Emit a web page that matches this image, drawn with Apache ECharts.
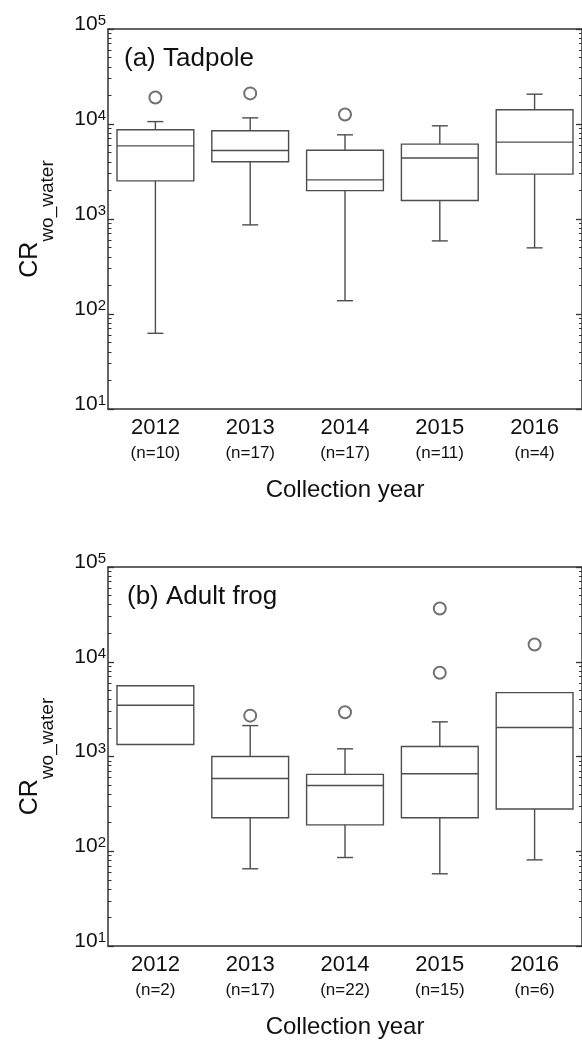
<!DOCTYPE html>
<html>
<head>
<meta charset="utf-8">
<script src="https://cdn.jsdelivr.net/npm/echarts@6/dist/echarts.min.js"></script>
<style>
html,body{margin:0;padding:0;background:#fff;}
#chart{width:582px;height:1040px;}
</style>
</head>
<body>
<div id="chart"></div>
<script>
// ---- data ----
const years = ['2012', '2013', '2014', '2015', '2016'];
const tadpoleN = [10, 17, 17, 11, 4];
const frogN = [2, 17, 22, 15, 6];
// [min, Q1, median, Q3, max]
const tadpoleBox = [
  [62.6, 2520, 5890, 8690, 10600],
  [867, 4000, 5260, 8480, 11600],
  [138, 1990, 2580, 5300, 7690],
  [588, 1563, 4380, 6140, 9570],
  [497, 2970, 6440, 14100, 20600]
];
const tadpoleOutliers = [['2012', 19000], ['2013', 21000], ['2014', 12600]];
const frogBox = [
  [1337, 1337, 3480, 5590, 5590],
  [65.3, 226, 586, 1000, 2120],
  [85.9, 190, 495, 647, 1205],
  [57.8, 226, 657, 1274, 2320],
  [81.1, 279, 2020, 4720, 4720]
];
const frogOutliers = [['2013', 2700], ['2014', 2930], ['2015', 36500], ['2015', 7660], ['2016', 15200]];
const majorTickValues = [10, 100, 1000, 10000, 100000];
const minorTickValues = [];
[10, 100, 1000, 10000].forEach(function (d) {
  [2, 3, 4, 5, 6, 7, 8, 9].forEach(function (m) { minorTickValues.push(m * d); });
});
const panelTitles = ['(a) Tadpole', '(b) Adult frog'];

// ---- style ----
const FONT = 'Liberation Sans, Arial, sans-serif';
const AX = '#333';
const LN = '#4d4d4d';

const grids = [
  { left: 108, right: -2, top: 29, height: 380 },
  { left: 108, right: -2, top: 567, height: 380 }
];

function xAxes(gi, nArr) {
  return [
    {
      type: 'category', gridIndex: gi, position: 'bottom', data: years,
      boundaryGap: true,
      axisLine: { lineStyle: { color: AX, width: 1.5 } },
      axisTick: { inside: true, length: 5, lineStyle: { color: AX, width: 1.3 } },
      axisLabel: {
        margin: 6, color: '#111', fontFamily: FONT,
        formatter: function (v, i) { return '{y|' + v + '}\n{n|(n=' + nArr[i] + ')}'; },
        rich: {
          y: { fontSize: 22, lineHeight: 26, fontFamily: FONT, color: '#111' },
          n: { fontSize: 17, lineHeight: 24, fontFamily: FONT, color: '#111' }
        }
      },
      name: 'Collection year', nameLocation: 'middle', nameGap: 69,
      nameTextStyle: { fontSize: 24, fontFamily: FONT, color: '#111' },
      splitLine: { show: false }
    },
    {
      type: 'category', gridIndex: gi, position: 'top', data: years,
      boundaryGap: true,
      axisLine: { lineStyle: { color: AX, width: 1.5 } },
      axisTick: { inside: true, length: 5, lineStyle: { color: AX, width: 1.3 } },
      axisLabel: { show: false },
      splitLine: { show: false }
    }
  ];
}

function supLabel(v) {
  const e = Math.round(Math.log10(v));
  return '{b|10}{s|' + e + '}';
}

function yAxes(gi) {
  const base = { type: 'log', logBase: 10, min: 10, max: 100000, gridIndex: gi, splitLine: { show: false } };
  return [
    Object.assign({}, base, {
      position: 'left',
      axisLine: { show: true, lineStyle: { color: AX, width: 1.5 } },
      axisTick: { show: true, inside: true, length: 6, customValues: majorTickValues, lineStyle: { color: AX, width: 1.3 } },
      axisLabel: {
        margin: 2, customValues: majorTickValues, formatter: supLabel,
        rich: {
          b: { fontSize: 21, fontFamily: FONT, color: '#111', lineHeight: 21, padding: [0, 0, 10, 0] },
          s: { fontSize: 15, fontFamily: FONT, color: '#111', lineHeight: 15, padding: [0, 0, 16, 0] }
        }
      },
      name: '{a|CR}{b|wo_water}', nameLocation: 'middle', nameGap: 58, nameRotate: 90,
      nameTextStyle: {
        rich: {
          a: { fontSize: 25, lineHeight: 26, fontFamily: FONT, color: '#111', padding: [0, 0, 14, 0] },
          b: { fontSize: 19, lineHeight: 18, fontFamily: FONT, color: '#111', padding: [22, 0, 0, 0] }
        }
      }
    }),
    Object.assign({}, base, {
      position: 'left',
      axisLine: { show: false },
      axisTick: { show: true, inside: true, length: 3.5, customValues: minorTickValues, lineStyle: { color: AX, width: 1 } },
      axisLabel: { show: false }
    }),
    Object.assign({}, base, {
      position: 'right',
      axisLine: { show: true, lineStyle: { color: AX, width: 1.5 } },
      axisTick: { show: true, inside: true, length: 6, customValues: majorTickValues, lineStyle: { color: AX, width: 1.3 } },
      axisLabel: { show: false }
    }),
    Object.assign({}, base, {
      position: 'right',
      axisLine: { show: false },
      axisTick: { show: true, inside: true, length: 3, customValues: minorTickValues, lineStyle: { color: AX, width: 1 } },
      axisLabel: { show: false }
    })
  ];
}

function boxRender(params, api) {
  const idx = api.value(0);
  const pMin = api.coord([idx, api.value(1)]);
  const pQ1 = api.coord([idx, api.value(2)]);
  const pMed = api.coord([idx, api.value(3)]);
  const pQ3 = api.coord([idx, api.value(4)]);
  const pMax = api.coord([idx, api.value(5)]);
  const bw = params.coordSys.width / years.length;
  const hb = bw * 0.405;
  const hc = 8;
  const cx = pMed[0];
  const st = { stroke: LN, lineWidth: 1.4, fill: 'none' };
  const ch = [];
  ch.push({ type: 'rect', shape: { x: cx - hb, y: pQ3[1], width: 2 * hb, height: pQ1[1] - pQ3[1] }, style: st });
  ch.push({ type: 'line', shape: { x1: cx - hb, y1: pMed[1], x2: cx + hb, y2: pMed[1] }, style: st });
  if (api.value(5) > api.value(4)) {
    ch.push({ type: 'line', shape: { x1: cx, y1: pQ3[1], x2: cx, y2: pMax[1] }, style: st });
    ch.push({ type: 'line', shape: { x1: cx - hc, y1: pMax[1], x2: cx + hc, y2: pMax[1] }, style: st });
  }
  if (api.value(1) < api.value(2)) {
    ch.push({ type: 'line', shape: { x1: cx, y1: pQ1[1], x2: cx, y2: pMin[1] }, style: st });
    ch.push({ type: 'line', shape: { x1: cx - hc, y1: pMin[1], x2: cx + hc, y2: pMin[1] }, style: st });
  }
  return { type: 'group', children: ch };
}

function boxData(box) {
  return box.map(function (b, i) { return [i].concat(b); });
}

const option = {
  animation: false,
  backgroundColor: '#fff',
  grid: grids,
  xAxis: xAxes(0, tadpoleN).concat(xAxes(1, frogN)),
  yAxis: yAxes(0).concat(yAxes(1)),
  graphic: [
    { type: 'text', left: 124, top: 46, style: { text: panelTitles[0], fontSize: 26, fontFamily: FONT, fill: '#111' } },
    { type: 'text', left: 127, top: 584, style: { text: panelTitles[1], fontSize: 26, fontFamily: FONT, fill: '#111' } }
  ],
  series: [
    { type: 'custom', xAxisIndex: 0, yAxisIndex: 0, renderItem: boxRender, data: boxData(tadpoleBox), encode: { x: 0, y: [1, 2, 3, 4, 5] }, clip: false },
    { type: 'scatter', xAxisIndex: 0, yAxisIndex: 0, data: tadpoleOutliers, symbol: 'emptyCircle', symbolSize: 12, itemStyle: { color: LN, borderWidth: 1.3 } },
    { type: 'custom', xAxisIndex: 2, yAxisIndex: 4, renderItem: boxRender, data: boxData(frogBox), encode: { x: 0, y: [1, 2, 3, 4, 5] }, clip: false },
    { type: 'scatter', xAxisIndex: 2, yAxisIndex: 4, data: frogOutliers, symbol: 'emptyCircle', symbolSize: 12, itemStyle: { color: LN, borderWidth: 1.3 } }
  ]
};

const chart = echarts.init(document.getElementById('chart'), null, { renderer: 'canvas' });
chart.setOption(option);
</script>
</body>
</html>
